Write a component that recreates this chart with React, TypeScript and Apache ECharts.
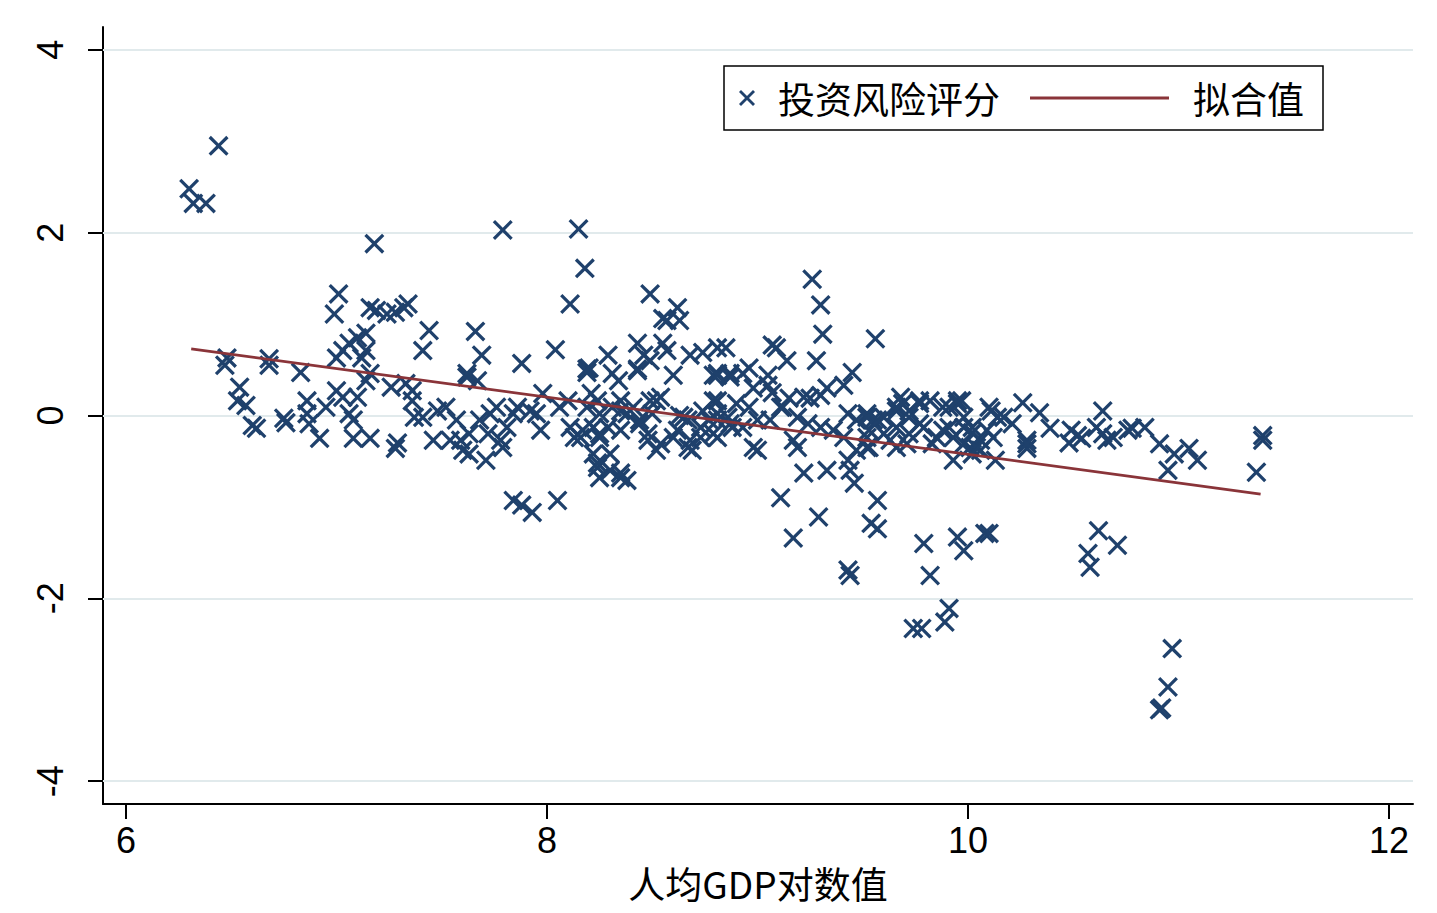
import { useEffect, useRef } from "react";
import * as echarts from "echarts";

// tick values
const xTicks = [6, 8, 10, 12];
const yTicks = [-4, -2, 0, 2, 4];

// 投资风险评分 vs 人均GDP对数值
const scoresPoor: [number, number][] = [
  [6.30, 2.48], [6.32, 2.32], [6.38, 2.32], [6.44, 2.95],
  [7.18, 1.88], [7.01, 1.33], [6.99, 1.11], [7.16, 1.18], [7.19, 1.15], [7.24, 1.11],
  [7.28, 1.13], [7.34, 1.22], [7.32, 1.18], [7.44, 0.93], [7.41, 0.71],
  [6.48, 0.63], [6.47, 0.55], [6.68, 0.62], [6.68, 0.55], [6.83, 0.47], [7.00, 0.63],
  [7.03, 0.71], [7.06, 0.79], [7.10, 0.85], [7.14, 0.90], [7.14, 0.71], [7.12, 0.63],
  [7.16, 0.46], [7.14, 0.38],
  [6.54, 0.31], [6.53, 0.16], [6.57, 0.11], [6.60, -0.11], [6.62, -0.14], [6.75, -0.03],
  [6.76, -0.08], [6.86, 0.16], [6.86, 0.02], [6.87, -0.09], [6.92, -0.25], [6.95, 0.09],
  [7.00, 0.27], [7.03, 0.20], [7.10, 0.20], [7.06, 0.02], [7.08, -0.05], [7.08, -0.25],
  [7.16, -0.25], [7.26, 0.31], [7.33, 0.35], [7.36, 0.27], [7.36, 0.16], [7.37, -0.02],
  [7.41, -0.02], [7.48, 0.05], [7.46, -0.27], [7.52, 0.09], [7.57, -0.05], [7.54, -0.27],
  [7.29, -0.30], [7.28, -0.36], [7.59, -0.27], [7.60, -0.38], [7.62, 0.42],
];

const scoresLowerMid: [number, number][] = [
  [7.79, 2.03], [8.15, 2.04], [8.18, 1.61], [8.11, 1.22], [8.49, 1.33], [8.62, 1.18],
  [8.55, 1.06], [8.57, 1.04], [8.63, 1.04], [7.66, 0.92], [7.69, 0.66], [7.88, 0.57],
  [8.04, 0.72], [7.62, 0.46], [7.67, 0.38], [8.19, 0.51], [8.19, 0.47], [8.29, 0.66],
  [8.31, 0.46], [8.34, 0.38], [8.43, 0.79], [8.46, 0.66], [8.43, 0.51], [8.49, 0.60],
  [8.55, 0.79], [8.57, 0.71], [8.60, 0.44], [8.68, 0.66], [8.74, 0.69], [8.79, 0.44],
  [8.81, 0.74], [8.20, 0.52], [8.43, 0.49], [8.81, 0.46], [8.87, 0.46],
  [7.98, 0.24], [7.92, 0.05], [7.95, 0.02], [7.76, 0.09], [7.73, 0.02], [7.68, -0.05],
  [7.63, -0.20], [7.72, -0.20], [7.78, -0.27], [7.81, -0.13], [7.84, 0.02], [7.86, 0.09],
  [7.63, -0.42], [7.71, -0.49], [7.79, -0.35], [7.97, -0.16], [8.06, 0.09], [8.10, 0.16],
  [8.11, -0.13], [8.13, -0.24], [8.19, 0.09], [8.21, 0.24], [8.24, 0.16], [8.25, 0.02],
  [8.29, -0.13], [8.31, 0.09], [8.35, 0.16], [8.38, 0.02], [8.41, 0.09], [8.44, -0.05],
  [8.48, -0.20], [8.50, 0.02], [8.52, 0.16], [8.54, -0.31], [8.62, -0.16], [8.65, -0.02],
  [8.68, -0.27], [8.69, -0.38], [8.73, -0.13], [8.77, -0.05], [8.81, 0.02], [8.79, 0.16],
  [8.35, 0.05], [8.49, 0.16], [8.54, 0.20], [8.63, 0.00], [8.67, -0.05], [8.74, 0.05],
  [8.86, -0.02], [8.16, -0.24], [8.22, -0.13], [8.25, -0.24], [8.35, -0.16], [8.44, -0.09],
  [8.48, -0.27], [8.52, -0.38], [8.60, -0.24], [8.67, -0.35], [8.73, -0.24], [8.79, -0.20],
  [8.88, -0.13],
  [8.22, -0.42], [8.24, -0.57], [8.25, -0.68], [8.30, -0.42], [8.35, -0.68], [8.38, -0.71],
  [8.24, -0.52], [8.30, -0.60], [8.35, -0.63],
  [7.84, -0.93], [7.88, -0.98], [7.93, -1.06], [8.05, -0.93], [8.25, -0.20], [8.17, -0.16],
];

const scoresUpperMid: [number, number][] = [
  [9.26, 1.49], [9.30, 1.21], [9.31, 0.89], [9.28, 0.60], [9.56, 0.84], [8.85, 0.74],
  [9.07, 0.77], [9.09, 0.74], [9.14, 0.60], [8.96, 0.52], [8.93, 0.46], [8.81, 0.44],
  [8.87, 0.42], [9.05, 0.44], [8.98, 0.30], [9.05, 0.33], [9.07, 0.25], [8.81, 0.16],
  [8.90, 0.13], [8.96, 0.09], [9.11, 0.09], [9.15, 0.19], [9.22, 0.20], [9.25, 0.19],
  [9.30, 0.22], [9.33, 0.30], [9.41, 0.33], [9.45, 0.47], [9.43, 0.02],
  [8.81, -0.05], [8.87, -0.09], [8.93, -0.13], [9.00, -0.05], [9.06, -0.05], [9.12, 0.09],
  [9.19, -0.02], [9.24, -0.09], [9.30, -0.13], [9.36, -0.16], [9.41, -0.24], [9.47, -0.05],
  [9.52, 0.02], [9.55, -0.05], [9.60, -0.02], [9.66, 0.09], [9.68, 0.20], [9.72, 0.05],
  [9.77, 0.16], [9.82, 0.16], [9.88, 0.09], [9.95, 0.13], [9.98, -0.02], [9.91, -0.13],
  [9.85, -0.24], [9.79, -0.13], [9.72, -0.20], [9.66, -0.13], [9.60, -0.20], [9.52, -0.24],
  [9.47, -0.38], [9.53, -0.35], [9.66, -0.35], [9.71, -0.31], [8.81, -0.24], [8.98, -0.35],
  [9.00, -0.38], [9.17, -0.27], [9.19, -0.35], [9.93, -0.49],
  [9.52, -0.02], [9.57, -0.05], [9.53, -0.16], [9.66, 0.05], [9.69, 0.13], [9.72, -0.02],
  [9.77, 0.13], [9.77, -0.09], [9.91, 0.09], [9.95, 0.16], [9.88, -0.16], [9.93, -0.24],
  [9.83, -0.31], [9.52, -0.35], [9.63, -0.27],
  [9.22, -0.63], [9.33, -0.60], [9.43, -0.49], [9.44, -0.60], [9.46, -0.74], [9.11, -0.90],
  [9.57, -0.93], [9.29, -1.11], [9.54, -1.18], [9.57, -1.24], [9.17, -1.34], [9.79, -1.40],
  [9.95, -1.33], [9.98, -1.48], [9.43, -1.69], [9.44, -1.75], [9.82, -1.75], [9.74, -2.33],
  [9.78, -2.33], [9.91, -2.11], [9.89, -2.26],
];

const scoresRich: [number, number][] = [
  [9.97, 0.16], [10.11, 0.05], [10.14, -0.02], [10.26, 0.14], [10.34, 0.03], [10.21, -0.09],
  [10.17, -0.02], [9.98, -0.13], [10.02, -0.19], [10.09, -0.16], [10.12, -0.24], [10.06, -0.27],
  [10.01, -0.35], [10.06, -0.38], [10.13, -0.49], [10.28, -0.27], [10.28, -0.36], [10.39, -0.14],
  [10.02, -0.13], [9.98, -0.31], [10.04, -0.35], [10.10, 0.09], [10.28, -0.31], [10.02, -0.42],
  [10.49, -0.16], [10.52, -0.22], [10.48, -0.30], [10.54, -0.25], [10.61, -0.13], [10.64, 0.05],
  [10.64, -0.20], [10.66, -0.27], [10.69, -0.24], [10.76, -0.16], [10.78, -0.14], [10.84, -0.13],
  [10.91, -0.31], [10.98, -0.42], [11.05, -0.36], [11.09, -0.49], [10.95, -0.60], [11.40, -0.22],
  [11.40, -0.27], [11.37, -0.62], [10.62, -1.26], [10.71, -1.42], [10.57, -1.51], [10.58, -1.66],
  [10.08, -1.29], [10.10, -1.29], [10.97, -2.55], [10.95, -2.97], [10.92, -3.20], [10.91, -3.22],
];

// 拟合值 (linear fit) end points
const fitLine: [number, number][] = [
  [6.31, 0.73],
  [11.39, -0.86],
];

const NAVY = "#1f416c";
const MAROON = "#8a3439";
const GRID = "#e1eaec";
const LATIN = '"Liberation Sans", Arial, sans-serif';
const CJK = '"Noto Sans CJK SC", "Noto Sans", sans-serif';
const X_MARK =
  "path://M0,2.3L2.3,0L10,7.7L17.7,0L20,2.3L12.3,10L20,17.7L17.7,20L10,12.3L2.3,20L0,17.7L7.7,10Z";

export default function App() {
  const ref = useRef<HTMLDivElement>(null);

  useEffect(() => {
    if (!ref.current) return;
    const chart = echarts.init(ref.current, null, { renderer: "svg" });

    chart.setOption({
      animation: false,
      backgroundColor: "#ffffff",
      grid: { left: 103, right: 24, top: 27, bottom: 109 },
      xAxis: {
        type: "value",
        min: 5.891,
        max: 12.114,
        name: "人均GDP对数值",
        nameLocation: "middle",
        nameGap: 60,
        nameTextStyle: { fontSize: 37, color: "#000", fontFamily: CJK },
        axisLine: { onZero: false, lineStyle: { color: "#000", width: 2 } },
        axisTick: {
          customValues: xTicks,
          length: 15,
          lineStyle: { color: "#000", width: 2 },
        },
        axisLabel: {
          customValues: xTicks,
          margin: 18,
          fontSize: 36,
          color: "#000",
          fontFamily: LATIN,
        },
        splitLine: { show: false },
      },
      yAxis: {
        type: "value",
        min: -4.25,
        max: 4.25,
        axisLine: { show: true, onZero: false, lineStyle: { color: "#000", width: 2 } },
        axisTick: {
          show: true,
          customValues: yTicks,
          length: 15,
          lineStyle: { color: "#000", width: 2 },
        },
        axisLabel: {
          customValues: yTicks,
          rotate: 90,
          margin: 35,
          fontSize: 36,
          color: "#000",
          fontFamily: LATIN,
        },
        splitLine: { show: false },
      },
      series: [
        {
          type: "line",
          data: [[6, 0]],
          symbol: "none",
          lineStyle: { width: 0 },
          silent: true,
          z: 1,
          markLine: {
            silent: true,
            symbol: "none",
            label: { show: false },
            lineStyle: { color: GRID, type: "solid", width: 2 },
            data: yTicks.map((v) => ({ yAxis: v })),
          },
        },
        {
          type: "scatter",
          name: "投资风险评分",
          data: [...scoresPoor, ...scoresLowerMid, ...scoresUpperMid, ...scoresRich],
          symbol: X_MARK,
          symbolSize: 20,
          itemStyle: { color: NAVY, opacity: 1 },
          z: 6,
        },
        {
          type: "line",
          name: "拟合值",
          data: fitLine,
          symbol: "none",
          lineStyle: { color: MAROON, width: 2.8 },
          z: 7,
        },
      ],
      graphic: [
        {
          type: "rect",
          shape: { x: 724, y: 66, width: 599, height: 64 },
          style: { fill: "#fff", stroke: "#000", lineWidth: 1.5 },
          z: 10,
        },
        {
          type: "line",
          shape: { x1: 740, y1: 91, x2: 754, y2: 105 },
          style: { stroke: NAVY, lineWidth: 2.8 },
          z: 11,
        },
        {
          type: "line",
          shape: { x1: 754, y1: 91, x2: 740, y2: 105 },
          style: { stroke: NAVY, lineWidth: 2.8 },
          z: 11,
        },
        {
          type: "text",
          x: 778,
          y: 98,
          style: {
            text: "投资风险评分",
            font: `37px ${CJK}`,
            fill: "#000",
            verticalAlign: "middle",
          },
          z: 11,
        },
        {
          type: "line",
          shape: { x1: 1030, y1: 98, x2: 1169, y2: 98 },
          style: { stroke: MAROON, lineWidth: 3 },
          z: 11,
        },
        {
          type: "text",
          x: 1193,
          y: 98,
          style: {
            text: "拟合值",
            font: `37px ${CJK}`,
            fill: "#000",
            verticalAlign: "middle",
          },
          z: 11,
        },
      ],
    });

    return () => {
      chart.dispose();
    };
  }, []);

  return (
    <div
      ref={ref}
      style={{ position: "absolute", left: 0, top: 0, width: 1437, height: 913 }}
    />
  );
}
